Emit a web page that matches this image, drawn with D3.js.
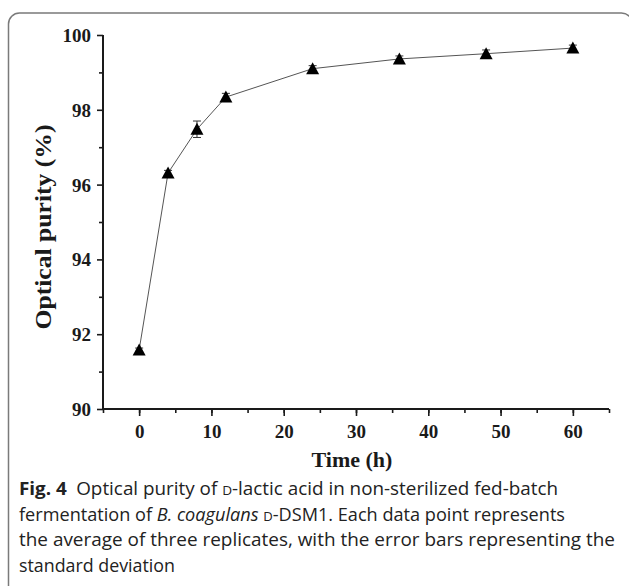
<!DOCTYPE html>
<html><head><meta charset="utf-8">
<script src="https://cdn.jsdelivr.net/npm/d3@7"></script>
<style>body{margin:0;background:#fff;} svg{display:block;}</style>
</head><body>
<svg id="c" width="629" height="586"></svg>
<script>
const times = [0, 4, 8, 12, 24, 36, 48, 60];
const purity = [91.58, 96.31, 97.48, 98.34, 99.1, 99.36, 99.5, 99.65];
const errors = [0.05, 0.07, 0.22, 0.1, 0.08, 0.08, 0.1, 0.08];
const xTicks = [0, 10, 20, 30, 40, 50, 60];
const yTicks = [90, 92, 94, 96, 98, 100];

const svg = d3.select("#c");
svg.append("rect").attr("x", 8.5).attr("y", 13).attr("width", 624).attr("height", 620)
  .attr("rx", 11).attr("fill", "none").attr("stroke", "#7a7a7a").attr("stroke-width", 1.5);

const x = d3.scaleLinear().domain([-5, 65]).range([103, 609]);
const y = d3.scaleLinear().domain([90, 100]).range([409, 35]);

const serif = "'Liberation Serif','Times New Roman',serif";
const ink = "#1a1a1a";
const TS = 1.04; // slight vertical stretch of tick lettering
const VS = 1.14; // stretch along the y title

// x axis
const xa = svg.append("g").attr("transform", `translate(0,${y(90)})`);
xa.call(d3.axisBottom(x).tickValues(d3.range(-5, 66, 5)).tickSize(4).tickFormat(""));
xa.call(g => g.selectAll(".tick line").attr("stroke", ink).attr("stroke-width", 1.6));
const xb = svg.append("g").attr("transform", `translate(0,${y(90)})`);
xb.call(d3.axisBottom(x).tickValues(xTicks).tickSize(7).tickPadding(0).tickFormat(d3.format("d")));
xb.select(".domain").attr("stroke", ink).attr("stroke-width", 2).attr("d", `M${x(-5)},0H${x(65)}`);
xb.selectAll(".tick line").attr("stroke", ink).attr("stroke-width", 1.6);
xb.selectAll(".tick text").attr("font-family", serif).attr("font-weight", "bold").attr("font-size", 19)
  .attr("fill", ink).attr("dy", null).attr("y", null)
  .attr("transform", `translate(0,28.5) scale(1,${TS})`);

// y axis
const ya = svg.append("g").attr("transform", `translate(${x(-5)},0)`);
ya.call(d3.axisLeft(y).tickValues(d3.range(91, 100, 2)).tickSize(4).tickFormat(""));
ya.call(g => g.select(".domain").remove());
ya.selectAll(".tick line").attr("stroke", ink).attr("stroke-width", 1.6);
const yb = svg.append("g").attr("transform", `translate(${x(-5)},0)`);
yb.call(d3.axisLeft(y).tickValues(yTicks).tickSize(6).tickPadding(0).tickFormat(d3.format("d")));
yb.select(".domain").attr("stroke", ink).attr("stroke-width", 2).attr("d", `M0,${y(100)}V${y(90)}`);
yb.selectAll(".tick line").attr("stroke", ink).attr("stroke-width", 1.6);
yb.selectAll(".tick text").attr("font-family", serif).attr("font-weight", "bold").attr("font-size", 19)
  .attr("fill", ink).attr("x", null).attr("dy", null)
  .attr("transform", `translate(-12,6.5) scale(1,${TS})`);

// titles
svg.append("text").attr("x", 352).attr("y", 466.5).attr("text-anchor", "middle")
  .attr("font-family", serif).attr("font-weight", "bold").attr("font-size", 22).attr("fill", ink).text("Time (h)");
svg.append("text").attr("transform", `translate(51,${(y(90)+y(100))/2 + 5}) scale(1,${VS}) rotate(-90)`).attr("text-anchor", "middle")
  .attr("font-family", serif).attr("font-weight", "bold").attr("font-size", 22.5).attr("fill", ink).text("Optical purity (%)");

const data = times.map((t, i) => ({t, v: purity[i], e: errors[i]}));

// line
svg.append("path").datum(data).attr("fill", "none").attr("stroke", "#555").attr("stroke-width", 1)
  .attr("d", d3.line().x(d => x(d.t)).y(d => y(d.v)));

// error bars
const eb = svg.append("g").attr("stroke", "#333").attr("stroke-width", 1);
data.forEach(d => {
  const cx = x(d.t), y1 = y(d.v + d.e), y2 = y(d.v - d.e);
  eb.append("line").attr("x1", cx).attr("x2", cx).attr("y1", y1).attr("y2", y2);
  eb.append("line").attr("x1", cx - 4).attr("x2", cx + 4).attr("y1", y1).attr("y2", y1);
  eb.append("line").attr("x1", cx - 4).attr("x2", cx + 4).attr("y1", y2).attr("y2", y2);
});

// markers: tall triangle, bounding box centred on the point
const tri = { draw(ctx) { ctx.moveTo(0, -6.5); ctx.lineTo(6.5, 5.5); ctx.lineTo(-6.5, 5.5); ctx.closePath(); } };
svg.append("g").selectAll("path").data(data).join("path")
  .attr("transform", d => `translate(${x(d.t)},${y(d.v)})`)
  .attr("d", d3.symbol(tri)).attr("fill", "#000");

// caption
const sans = "'Open Sans','Noto Sans',sans-serif";
const cap = svg.append("g").attr("font-family", sans).attr("font-size", 18).attr("fill", "#222");
const l1 = cap.append("text").attr("x", 19).attr("y", 495).attr("textLength", 539).attr("lengthAdjust", "spacingAndGlyphs");
l1.append("tspan").attr("font-weight", "bold").text("Fig. 4");
l1.append("tspan").text("\u2002Optical purity of ");
l1.append("tspan").style("font-variant", "small-caps").text("d");
l1.append("tspan").text("-lactic acid in non-sterilized fed-batch");
const l2 = cap.append("text").attr("x", 19).attr("y", 520.5).attr("textLength", 546).attr("lengthAdjust", "spacingAndGlyphs");
l2.append("tspan").text("fermentation of ");
l2.append("tspan").attr("font-style", "italic").text("B. coagulans");
l2.append("tspan").text(" ");
l2.append("tspan").style("font-variant", "small-caps").text("d");
l2.append("tspan").text("-DSM1. Each data point represents");
cap.append("text").attr("x", 19).attr("y", 546).attr("textLength", 596).attr("lengthAdjust", "spacingAndGlyphs")
  .text("the average of three replicates, with the error bars representing the");
cap.append("text").attr("x", 19).attr("y", 571.5).attr("textLength", 156).attr("lengthAdjust", "spacingAndGlyphs")
  .text("standard deviation");
</script>
</body></html>
